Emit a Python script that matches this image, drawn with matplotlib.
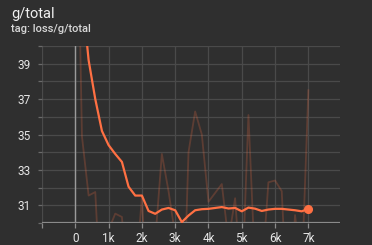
import matplotlib
matplotlib.use('Agg')
import matplotlib.pyplot as plt
import numpy as np

# training steps (every 200)
steps = np.arange(0, 7001, 200)

# raw loss values (many dip below the visible range)
raw = [55.0, 34.9, 31.55, 31.75, 24.5, 29.6, 30.53, 30.34, 26.0, 26.5,
       31.5, 24.0, 29.0, 33.9, 31.8, 29.3, 22.0, 34.0, 36.3, 35.0,
       31.2, 31.7, 32.2, 29.0, 31.4, 26.0, 36.1, 27.4, 27.0, 32.3,
       32.4, 31.8, 24.0, 30.45, 27.0, 37.5]

# smoothed loss values
smoothed = [55.0, 43.0, 39.2, 37.0, 35.2, 34.4, 33.9, 33.45, 32.05, 31.55,
            31.55, 30.68, 30.52, 30.76, 30.85, 30.72, 30.05, 30.42, 30.72, 30.78,
            30.8, 30.85, 30.9, 30.82, 30.85, 30.66, 30.87, 30.81, 30.68, 30.76,
            30.8, 30.8, 30.76, 30.72, 30.66, 30.8]

xticks = [0, 1000, 2000, 3000, 4000, 5000, 6000, 7000]
xlabels = ['0', '1k', '2k', '3k', '4k', '5k', '6k', '7k']
yticks = [31, 33, 35, 37, 39]

bg = '#2f2f2f'
grid = '#4a4a4a'
orange = '#ff7043'

plt.rcParams['font.family'] = ['Roboto', 'DejaVu Sans']

fig = plt.figure(figsize=(3.72, 2.45), dpi=100, facecolor=bg)
ax = fig.add_axes([42/372, 1 - 223/245, (340 - 42)/372, (223 - 46)/245])
ax.set_facecolor(bg)

ax.plot(steps, raw, color=orange, alpha=0.22, lw=1.3, clip_on=True)
ax.plot(steps, smoothed, color=orange, lw=1.6, clip_on=True, zorder=4)
ax.plot(steps[-1], smoothed[-1], 'o', color=orange, ms=5.5, zorder=5, clip_on=False)

ax.set_xlim(-1000, 7950)
ax.set_ylim(30, 40)

# grid lines
for v in range(30, 41):
    ax.axhline(v, color=grid, lw=0.9, zorder=1)
for v in range(-1000, 8000, 1000):
    ax.axvline(v, color=grid, lw=0.9, zorder=1)
ax.axvline(0, color='#9a9a9a', lw=1.0, zorder=2)
ax.axhline(30, color='#8a8a8a', lw=1.6, zorder=3)

for s in ax.spines.values():
    s.set_visible(False)

ax.set_xticks(list(range(-1000, 8000, 1000)))
ax.set_xticklabels([''] + xlabels)
ax.set_yticks(list(range(30, 41)))
ax.set_yticklabels([str(v) if v in yticks else '' for v in range(30, 41)])
ax.tick_params(axis='x', colors='#8a8a8a', length=3.5, width=0.9, pad=3,
               labelcolor='#e6e6e6', labelsize=8.5)
ax.tick_params(axis='y', colors='#6a6a6a', length=3, width=0.9, pad=5,
               labelcolor='#e6e6e6', labelsize=8.5)

fig.text(11/372, 1 - 14/245, 'g/total', color='#f0f0f0', fontsize=10.5,
         va='center', ha='left')
fig.text(11/372, 1 - 28.5/245, 'tag: loss/g/total', color='#d8d8d8', fontsize=8,
         va='center', ha='left', fontweight='medium')

fig.savefig('out.png', dpi=100, facecolor=bg)
